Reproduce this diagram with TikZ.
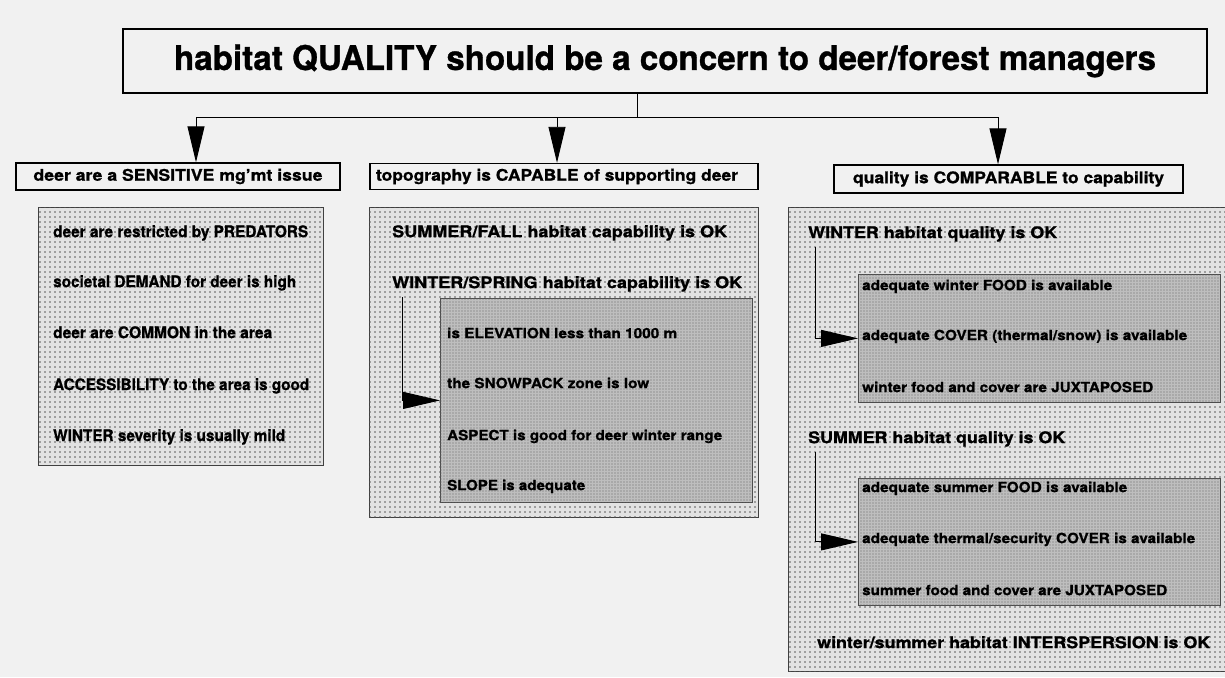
\documentclass[tikz,border=0pt]{standalone}
\usepackage{fontspec}
\usepackage{graphicx}
\setmainfont{TeX Gyre Heros}[BoldFeatures={FakeBold=0.9}]
\usetikzlibrary{arrows.meta,patterns.meta}

% set a line of text to an exact width, keeping its natural height
\newcommand\fw[2]{\resizebox{#1pt}{\height}{#2}}

\definecolor{paper}{RGB}{241,241,241}
\definecolor{panelgray}{RGB}{226,226,226}
\definecolor{subgray}{RGB}{190,190,190}

\begin{document}
\begin{tikzpicture}[x=1pt,y=-1pt,
  txt/.style={anchor=mid west, yshift=-2.5pt, inner sep=0pt, font=\bfseries\fontsize{16}{18}\selectfont},
  small/.style={txt, font=\bfseries\fontsize{14}{16}\selectfont},
  head/.style={draw=black, line width=1.4pt, fill=paper, inner sep=0pt,
    font=\bfseries\fontsize{16}{18}\selectfont},
  panel/.style={draw=black!75, line width=0.8pt, fill=panelgray, inner sep=0pt, anchor=north west,
    postaction={pattern={Dots[distance=5pt,radius=0.9pt]}, pattern color=black!65}},
  subpanel/.style={draw=black!70, line width=0.8pt, fill=subgray, inner sep=0pt, anchor=north west,
    postaction={pattern={Dots[distance=3pt,radius=0.7pt]}, pattern color=black!60}},
  link/.style={line width=0.9pt},
  bigarrow/.style={link, -{Triangle[length=36pt,width=17pt]}},
  sidearrow/.style={link, -{Triangle[length=37pt,width=17pt]}},
]
\clip (0,0) rectangle (1225,677);
\fill[paper] (0,0) rectangle (1225,677);

% ---- title ----
\node[head, line width=2pt, minimum width=1084pt, minimum height=64pt,
      font=\bfseries\fontsize{34}{40}\selectfont] (title) at (665,61)
  {\fw{982}{habitat QUALITY should be a concern to deer/forest managers}};

% ---- the three headings ----
\node[head, minimum width=324pt, minimum height=27pt] (h1) at (178,176.5)
  {\fw{289}{deer are a SENSITIVE mg'mt issue}};
\node[head, minimum width=388pt, minimum height=26pt] (h2) at (564,176.5)
  {\hspace*{-14pt}\fw{362}{topography is CAPABLE of supporting deer}};
\node[head, minimum width=349pt, minimum height=28pt] (h3) at (1008.5,179)
  {\fw{311}{quality is COMPARABLE to capability}};

% ---- branching connectors ----
\coordinate (bT) at (637,117);
\coordinate (bL) at (196,117);
\coordinate (bM) at (557,117);
\coordinate (bR) at (998,117);
\draw[link] (bT |- title.south) -- (bT);
\draw[link] (bL) -- (bR);
\draw[bigarrow] (bL) -- (bL |- h1.north);
\draw[bigarrow] (bM) -- (bM |- h2.north);
\draw[bigarrow] (bR) -- (bR |- h3.north);

% ---- panel 1: sensitivity ----
\node[panel, minimum width=285pt, minimum height=258pt] (p1) at (38,207) {};
\node[txt] (p1a) at (53,232) {\fw{255}{deer are restricted by PREDATORS}};
\node[txt] (p1b) at (53,282) {\fw{243}{societal DEMAND for deer is high}};
\node[txt] (p1c) at (53,333) {\fw{219}{deer are COMMON in the area}};
\node[txt] (p1d) at (53,385) {\fw{256}{ACCESSIBILITY to the area is good}};
\node[txt] (p1e) at (53,436) {\fw{232}{WINTER severity is usually mild}};

% ---- panel 2: capability ----
\node[panel, minimum width=389pt, minimum height=310pt] (p2) at (369,207) {};
\node[txt] (p2a) at (392,232) {\fw{335}{SUMMER/FALL habitat capability is OK}};
\node[txt] (p2b) at (392,283) {\fw{350}{WINTER/SPRING habitat capability is OK}};
\node[subpanel, minimum width=312pt, minimum height=204pt] (q2) at (440,298) {};
\node[small] (q2a) at (447,333) {\fw{230}{is ELEVATION less than 1000 m}};
\node[small] (q2b) at (447,383) {\fw{202}{the SNOWPACK zone is low}};
\node[small] (q2c) at (447,435) {\fw{275}{ASPECT is good for deer winter range}};
\node[small] (q2d) at (447,485) {\fw{138}{SLOPE is adequate}};
\coordinate (s2) at (402,297);
\draw[sidearrow] (s2) |- (q2.west);

% ---- panel 3: quality ----
\node[panel, minimum width=442pt, minimum height=464pt] (p3) at (788,207) {};
\node[txt] (p3a) at (808,233) {\fw{249}{WINTER habitat quality is OK}};
\node[subpanel, minimum width=362pt, minimum height=128pt] (qw) at (858,274) {};
\node[small] (qwa) at (862,285) {\fw{250}{adequate winter FOOD is available}};
\node[small] (qwb) at (862,335) {\fw{325}{adequate COVER (thermal/snow) is available}};
\node[small] (qwc) at (862,387) {\fw{291}{winter food and cover are JUXTAPOSED}};
\coordinate (sw) at (815,247);
\draw[sidearrow] (sw) |- (qw.west);

\node[txt] (p3b) at (808,438) {\fw{257}{SUMMER habitat quality is OK}};
\node[subpanel, minimum width=362pt, minimum height=127pt] (qs) at (858,478) {};
\node[small] (qsa) at (862,487) {\fw{265}{adequate summer FOOD is available}};
\node[small] (qsb) at (862,538) {\fw{333}{adequate thermal/security COVER is available}};
\node[small] (qsc) at (862,590) {\fw{305}{summer food and cover are JUXTAPOSED}};
\coordinate (ss) at (815,452);
\draw[sidearrow] (ss) |- (qs.west);

\node[txt] (p3c) at (817,643) {\fw{393}{winter/summer habitat INTERSPERSION is OK}};
\end{tikzpicture}
\end{document}
